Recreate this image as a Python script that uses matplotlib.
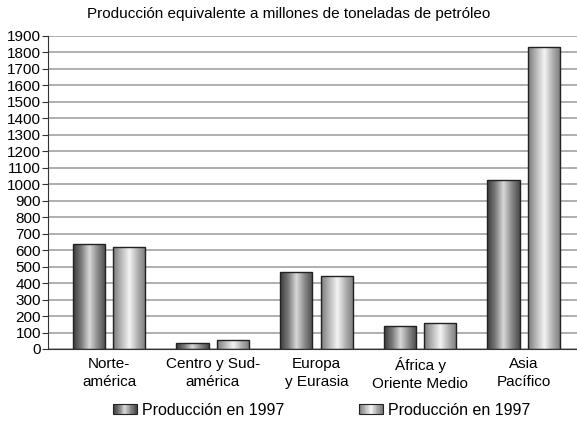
import numpy as np
import matplotlib
matplotlib.use("Agg")
import matplotlib.pyplot as plt
from matplotlib.patches import Rectangle
from matplotlib.legend_handler import HandlerBase
from matplotlib.colors import LinearSegmentedColormap

categorias = ["Norte-\namérica", "Centro y Sud-\namérica", "Europa\ny Eurasia",
              "África y\nOriente Medio", "Asia\nPacífico"]
serie_1 = [637, 35, 467, 140, 1025]
serie_2 = [619, 55, 440, 160, 1835]
etiquetas = ["Producción en 1997", "Producción en 1997"]

plt.rcParams['font.family'] = ['Liberation Sans', 'DejaVu Sans']

# gradientes tipo cilindro
cmap_1 = LinearSegmentedColormap.from_list(
    "c1", ["#3a3a3a", "#7a7a7a", "#d8d8d8", "#8a8a8a", "#4a4a4a"])
cmap_2 = LinearSegmentedColormap.from_list(
    "c2", ["#7a7a7a", "#b8b8b8", "#f4f4f4", "#b0b0b0", "#7a7a7a"])
grad = np.linspace(0, 1, 256).reshape(1, -1)


def barras_gradiente(ax, x, h, w, cmap):
    bars = ax.bar(x, h, w, facecolor="none", edgecolor="#222222",
                  linewidth=1.0, zorder=3)
    for b in bars:
        im = ax.imshow(grad, cmap=cmap, aspect="auto", zorder=2,
                       extent=[b.get_x(), b.get_x() + b.get_width(),
                               0, b.get_height()])
        im.set_clip_path(b)
    return bars


class HandlerGrad(HandlerBase):
    def __init__(self, cmap):
        super().__init__()
        self.cmap = cmap

    def create_artists(self, legend, orig_handle, xdescent, ydescent,
                       width, height, fontsize, trans):
        n = 30
        arts = []
        for i in range(n):
            r = Rectangle((-xdescent + width * i / n, -ydescent), width / n,
                          height, facecolor=self.cmap(i / (n - 1)),
                          edgecolor="none", transform=trans)
            arts.append(r)
        borde = Rectangle((-xdescent, -ydescent), width, height,
                          facecolor="none", edgecolor="#222222", lw=0.8,
                          transform=trans)
        arts.append(borde)
        return arts


fig = plt.figure(figsize=(5.77, 4.22), dpi=100)
ax = fig.add_axes([0.083, 0.173, 0.92, 0.742])

x = np.arange(len(categorias))
w = 0.31
b1 = barras_gradiente(ax, x - 0.195, serie_1, w, cmap_1)
b2 = barras_gradiente(ax, x + 0.195, serie_2, w, cmap_2)

ax.set_xlim(-0.59, 4.53)
ax.set_ylim(0, 1900)
ax.set_yticks(np.arange(0, 1901, 100))
ax.yaxis.grid(True, color="#9a9a9a", linewidth=1.1)
ax.set_axisbelow(True)
ax.set_xticks(x)
ax.set_xticklabels(categorias, fontsize=11, linespacing=1.3)
ax.tick_params(axis="x", length=0, pad=6)
ax.tick_params(axis="y", labelsize=11, length=4, pad=1, color="#333333")
for s in ["top", "right"]:
    ax.spines[s].set_visible(False)
ax.spines["left"].set_color("#333333")
ax.spines["bottom"].set_color("#333333")

fig.text(0.5, 0.966, "Producción equivalente a millones de toneladas de petróleo",
         fontsize=11, ha="center", va="center")

h1 = Rectangle((0, 0), 1, 1)
h2 = Rectangle((0, 0), 1, 1)
fig.legend([h1, h2], etiquetas, loc="center", ncol=2,
           bbox_to_anchor=(0.557, 0.028), frameon=False, fontsize=11.5,
           handlelength=1.5, handleheight=0.55, handletextpad=0.3,
           columnspacing=4.7, borderpad=0,
           handler_map={h1: HandlerGrad(cmap_1), h2: HandlerGrad(cmap_2)})

fig.savefig("out.png", dpi=100)
